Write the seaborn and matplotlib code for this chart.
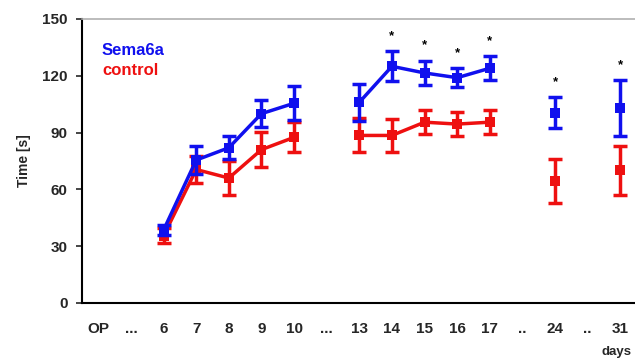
import numpy as np
import pandas as pd
import seaborn as sns
import matplotlib.pyplot as plt

# x axis categories (as printed under the axis)
tick_labels = ["OP", "...", "6", "7", "8", "9", "10", "...", "13", "14", "15", "16", "17", "..", "24", "..", "31"]

days = ["6", "7", "8", "9", "10", "13", "14", "15", "16", "17", "24", "31"]
segment = [1, 1, 1, 1, 1, 2, 2, 2, 2, 2, 3, 4]
sema_mean = [38.5, 75.5, 82, 100, 105.5, 106, 125, 121.5, 119, 124, 100.5, 103]
sema_err = [2.5, 7.5, 6.2, 7, 9, 9.7, 8, 6.5, 5, 6.3, 8.2, 14.8]
ctrl_mean = [35.5, 70.5, 66, 81, 87.5, 88.5, 88.5, 95.5, 94.5, 95.5, 64.5, 70]
ctrl_err = [4, 7.3, 9, 9.2, 8, 9, 8.5, 6.5, 6.5, 6.5, 11.5, 12.8]
star_days = ["14", "15", "16", "17", "24", "31"]

sns.set_style("ticks")
plt.rcParams['font.family'] = ['Liberation Sans', 'DejaVu Sans']
plt.rcParams['font.weight'] = 'bold'

# position of each day among the x categories
pos = {}
for i, lab in enumerate(tick_labels):
    if lab not in pos:
        pos[lab] = i
xs = [pos[d] for d in days]

df = pd.concat([
    pd.DataFrame({"x": xs, "time": sema_mean, "err": sema_err, "group": "Sema6a", "seg": segment}),
    pd.DataFrame({"x": xs, "time": ctrl_mean, "err": ctrl_err, "group": "control", "seg": segment}),
])
colors = {"Sema6a": "#1010ee", "control": "#ee1010"}

fig = plt.figure(figsize=(6.35, 3.59), dpi=100)
ax = fig.add_axes([82 / 635, 1 - 303 / 359, 1 - 82 / 635, (303 - 19) / 359])

for grp in ["control", "Sema6a"]:
    sub = df[df["group"] == grp]
    sns.lineplot(data=sub, x="x", y="time", units="seg", estimator=None,
                 color=colors[grp], linewidth=2.5, marker="s", markersize=6.5,
                 markeredgewidth=0, ax=ax, legend=False)
    ax.errorbar(sub["x"], sub["time"], yerr=sub["err"], fmt="none",
                ecolor=colors[grp], elinewidth=2.5, capsize=5, capthick=2.5)

# significance stars
for d in star_days:
    i = days.index(d)
    ax.text(pos[d], sema_mean[i] + sema_err[i] + 8, "*", ha="center", va="center",
            fontsize=9.5, color="black")

ax.set_xlim(-0.5, 16.45)
ax.set_ylim(0, 150)
ax.set_yticks([0, 30, 60, 90, 120, 150])
ax.set_xticks(range(len(tick_labels)))
ax.set_xticklabels(tick_labels)
ax.tick_params(axis="x", length=0, pad=14, labelsize=11)
ax.tick_params(axis="y", length=4.5, width=1.2, pad=6, labelsize=11)
ax.set_xlabel("")
ax.set_ylabel("Time [s]", fontsize=10, fontweight="bold", labelpad=8)

for s in ["left", "bottom"]:
    ax.spines[s].set_color("black")
    ax.spines[s].set_linewidth(1.5)
ax.spines["top"].set_color("#b0b0b0")
ax.spines["top"].set_linewidth(1.2)
ax.spines["right"].set_visible(False)

ax.text(0.036, 0.888, "Sema6a", transform=ax.transAxes, color=colors["Sema6a"],
        fontsize=12, fontweight="bold", va="center")
ax.text(0.036, 0.818, "control", transform=ax.transAxes, color=colors["control"],
        fontsize=12, fontweight="bold", va="center")
fig.text(616 / 635, 1 - 352 / 359, "days", fontsize=9.5, fontweight="bold",
         ha="center", va="center")

fig.savefig("out.png", dpi=100)
